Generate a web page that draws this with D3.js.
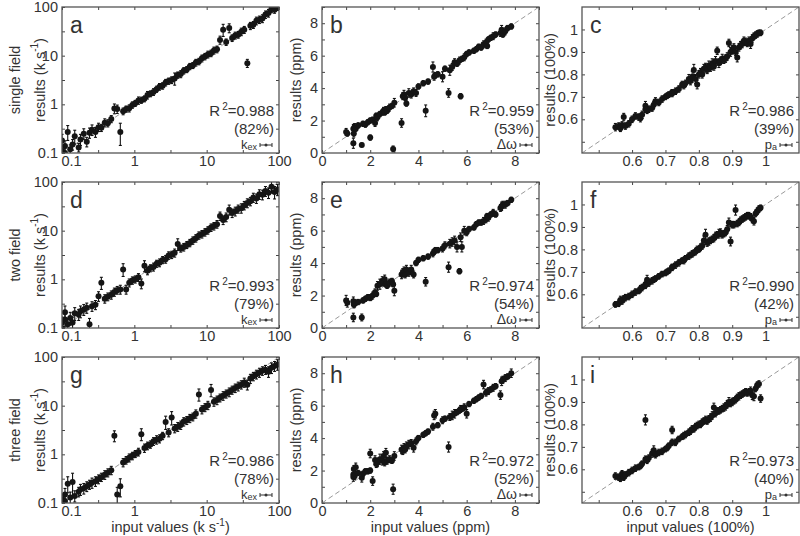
<!DOCTYPE html>
<html><head><meta charset="utf-8">
<script src="https://cdn.jsdelivr.net/npm/d3@7"></script>
<style>
body{margin:0;background:#fff}
svg{display:block}
text{font-family:"Liberation Sans",Arial,sans-serif;fill:#333}
</style>
</head><body>
<svg id="chart" width="800" height="536"></svg>
<script>
// ---------------- DATA ----------------
// input values, column 1 (k_ex, k s^-1)
const inputKex = [0.10,0.10,0.11,0.11,0.12,0.13,0.14,0.15,0.17,0.18, 0.20,0.22,0.24,0.26,0.29,0.32,0.35,0.39,0.43,0.48, 0.53,0.58,0.64,0.70,0.77,0.85,0.94,1.03,1.14,1.25, 1.38,1.52,1.67,1.84,2.03,2.23,2.46,2.71,2.98,3.28, 3.61,3.98,4.38,4.82,5.31,5.85,6.44,7.09,7.81,8.60, 9.47,10.4,11.5,12.6,13.9,15.3,16.9,18.6,20.5,22.5, 24.8,27.3,30.1,33.1,36.5,40.2,44.2,48.7,53.6,59.0, 65.0,71.6,78.8,86.8,95.5];
// input values, column 2 (Δω, ppm)
const inputDw = [1.0,1.05,1.3,1.3,1.32,1.35,1.4,1.5,1.65,1.7, 1.8,1.9,2.0,2.0,2.1,2.2,2.25,2.3,2.4,2.5, 2.55,2.6,2.65,2.7,2.8,2.9,2.95,3.0,3.3,3.35, 3.4,3.45,3.5,3.6,3.7,3.8,3.9,4.0,4.2,4.3, 4.4,4.6,4.65,4.7,4.8,5.0,5.1,5.25,5.3,5.4, 5.5,5.6,5.7,5.75,5.8,5.9,6.0,6.1,6.3,6.4, 6.5,6.6,6.7,6.8,6.85,6.9,7.0,7.1,7.2,7.4, 7.45,7.5,7.6,7.7,7.85];
// input values, column 3 (p_a)
const inputPa = [0.55,0.56,0.565,0.57,0.575,0.58,0.59,0.6,0.61,0.62, 0.625,0.63,0.64,0.645,0.65,0.66,0.665,0.67,0.68,0.69, 0.7,0.705,0.71,0.72,0.73,0.74,0.75,0.755,0.76,0.77, 0.775,0.78,0.785,0.79,0.795,0.8,0.805,0.81,0.815,0.82, 0.825,0.83,0.835,0.84,0.845,0.85,0.855,0.86,0.865,0.87, 0.875,0.88,0.885,0.89,0.895,0.9,0.905,0.91,0.915,0.92, 0.925,0.93,0.935,0.94,0.945,0.95,0.955,0.96,0.965,0.97, 0.975,0.98,0.985,0.64,0.72];

// results + errors, panel a (single field, kex)
const resA = [0.11,0.18,0.10,0.14,0.27,0.12,0.15,0.22,0.13,0.19, 0.25,0.17,0.26,0.30,0.27,0.34,0.33,0.42,0.41,0.50, 0.82,0.80,0.27,0.72,0.80,0.83,0.97,1.05,1.20,1.22, 1.30,1.55,1.65,1.80,2.05,2.30,2.40,2.80,3.00,3.15, 3.40,4.00,4.20,4.90,5.20,6.00,6.30,7.20,7.60,8.80, 9.60,10.6,11.2,12.8,13.5,21,34,19,37,23, 26,27,31,34,7.0,41,43,52,55,58, 70,75,92,88,97];
const errA = [0.02,0.05,0.02,0.03,0.08,0.02,0.03,0.06,0.02,0.04, 0.05,0.03,0.05,0.06,0.05,0.05,0.04,0.06,0.05,0.06, 0.15,0.12,0.12,0.08,0.08,0.1,0.1,0.1,0.15,0.12, 0.12,0.2,0.15,0.2,0.2,0.25,0.25,0.3,0.3,0.35, 0.8,0.4,0.5,0.5,0.5,0.6,0.6,0.8,0.8,1.0, 1.0,1.2,1.2,1.5,1.5,3,8,2,6,2.5, 3,3,4,4,1.0,5,5,7,7,8, 9,10,12,10,8];
// panel d (two field, kex)
const resD = [0.13,0.10,0.21,0.15,0.12,0.16,0.13,0.20,0.19,0.22, 0.24,0.26,0.12,0.28,0.30,0.45,0.85,0.40,0.44,0.48, 0.55,0.60,0.62,1.60,0.62,0.85,0.95,1.00,1.10,0.82, 1.90,1.50,1.70,1.80,2.10,2.20,2.50,2.60,3.10,3.20, 3.50,5.30,4.30,4.60,5.10,5.60,6.30,7.00,8.00,8.50, 9.30,10.2,11.6,12.4,13.6,20,16.5,19,27,23, 25,28,29,33,37,40,48,46,56,55, 65,60,80,62,70];
const errD = [0.03,0.02,0.06,0.04,0.03,0.04,0.03,0.05,0.04,0.05, 0.05,0.05,0.03,0.05,0.05,0.08,0.2,0.06,0.06,0.07, 0.08,0.08,0.1,0.4,0.1,0.12,0.12,0.12,0.15,0.15, 0.4,0.2,0.2,0.25,0.25,0.3,0.3,0.35,0.4,0.4, 0.5,1.2,0.5,0.6,0.6,0.7,0.8,0.9,1.0,1.1, 1.2,1.3,1.5,1.6,1.8,3,2.5,3,5,3.5, 4,4,5,5,6,6,8,8,10,10, 12,12,18,15,15];
// panel g (three field, kex)
const resG = [0.12,0.10,0.15,0.11,0.25,0.13,0.27,0.14,0.17,0.19, 0.20,0.22,0.24,0.26,0.28,0.31,0.34,0.38,0.42,0.47, 2.40,0.15,0.22,0.68,0.76,0.85,0.93,1.02,1.12,2.60, 1.35,1.50,1.60,1.85,2.00,2.10,2.40,4.60,2.80,5.70, 3.40,3.70,4.00,4.70,5.00,5.50,5.90,6.80,17.0,8.30, 9.20,10.2,21.0,12.0,13.0,14.5,16.0,17.5,19.0,21.0, 23.0,25.0,27.0,30.0,27.0,36.0,40.0,44.0,48.0,52.0, 55.0,50.0,60.0,65.0,70.0];
const errG = [0.02,0.02,0.04,0.02,0.08,0.03,0.12,0.03,0.03,0.04, 0.04,0.04,0.04,0.05,0.05,0.05,0.05,0.06,0.06,0.07, 0.5,0.05,0.08,0.1,0.1,0.12,0.12,0.12,0.15,0.6, 0.2,0.2,0.2,0.25,0.3,0.3,0.3,1.2,0.4,1.5, 0.5,0.6,0.6,0.7,0.7,0.8,0.8,1.0,4,1.2, 1.3,1.5,5,1.8,2,2,2.5,2.5,3,3, 3.5,4,4,5,5,6,6,7,8,8, 9,10,12,12,14];

// panel b (single field, Δω)
const resB = [1.3,1.2,0.6,1.5,1.2,1.6,1.5,1.7,0.5,1.8, 1.75,1.9,0.95,2.0,2.05,1.85,2.3,2.2,2.4,2.5, 2.6,2.5,2.7,2.6,2.8,2.9,0.25,3.1,1.85,3.5, 3.6,3.4,3.05,3.7,3.6,3.8,3.7,4.1,4.3,2.6, 4.4,5.3,4.7,4.8,4.85,4.7,5.2,3.7,5.1,5.3, 5.6,5.5,5.7,3.5,5.8,5.9,6.1,6.2,6.3,6.4, 6.55,6.5,6.7,6.8,6.6,7.0,7.1,7.2,7.3,7.4, 7.6,7.3,7.5,7.7,7.8];
const errB = [0.15,0.1,0.25,0.2,0.15,0.15,0.1,0.1,0.05,0.1, 0.1,0.1,0.1,0.1,0.1,0.15,0.1,0.15,0.1,0.1, 0.15,0.1,0.1,0.1,0.15,0.1,0.12,0.2,0.2,0.15, 0.2,0.1,0.1,0.2,0.15,0.15,0.15,0.1,0.1,0.3, 0.1,0.25,0.15,0.1,0.1,0.25,0.1,0.2,0.25,0.15, 0.15,0.1,0.15,0.1,0.1,0.15,0.1,0.1,0.1,0.1, 0.1,0.1,0.15,0.15,0.1,0.1,0.1,0.15,0.1,0.15, 0.2,0.1,0.15,0.1,0.1];
// panel e (two field, Δω)
const resE = [1.7,1.55,0.65,1.65,1.45,1.5,1.55,1.6,0.65,1.7, 1.8,1.9,1.9,1.85,2.0,2.2,2.1,2.6,2.7,2.9, 2.8,3.0,2.7,2.6,2.8,2.9,2.7,2.3,3.3,3.4, 3.5,3.3,3.6,3.4,3.6,3.3,4.0,4.2,4.3,2.85, 4.4,4.6,4.7,4.8,4.8,4.9,5.1,3.75,5.2,5.3, 5.4,5.0,3.5,5.6,5.0,6.0,5.9,6.1,6.2,6.4, 6.5,6.5,6.6,6.7,6.9,6.8,7.0,7.1,7.0,7.4, 7.5,7.6,7.6,7.7,7.9];
const errE = [0.25,0.2,0.2,0.2,0.15,0.15,0.1,0.1,0.15,0.1, 0.1,0.1,0.1,0.1,0.15,0.15,0.1,0.2,0.25,0.2, 0.15,0.2,0.1,0.1,0.15,0.1,0.1,0.25,0.2,0.2, 0.2,0.15,0.2,0.15,0.2,0.15,0.1,0.1,0.1,0.2, 0.1,0.15,0.1,0.1,0.1,0.15,0.15,0.25,0.2,0.2, 0.2,0.25,0.1,0.2,0.25,0.2,0.15,0.1,0.1,0.1, 0.1,0.1,0.15,0.15,0.1,0.15,0.1,0.15,0.1,0.15, 0.2,0.15,0.15,0.1,0.1];
// panel h (three field, Δω)
const resH = [null,null,1.6,1.75,2.1,1.65,2.2,1.85,1.55,1.8, 1.95,1.95,3.05,2.0,1.35,2.65,2.4,2.5,2.7,2.6, 2.9,2.5,3.1,2.6,2.7,2.6,0.85,2.9,3.3,3.2, 3.4,3.3,3.5,3.6,3.7,3.4,3.8,4.0,4.2,4.3, 4.4,4.7,5.4,5.5,4.8,5.1,5.2,3.45,5.3,5.4, 5.5,5.6,5.7,5.8,5.8,5.9,5.5,6.1,6.3,6.4, 6.5,6.6,7.3,6.8,6.85,6.9,7.0,7.1,7.2,6.65, 7.5,7.6,7.7,7.8,8.0];
const errH = [0,0,0.2,0.2,0.15,0.15,0.2,0.1,0.2,0.1, 0.1,0.1,0.2,0.1,0.2,0.2,0.15,0.2,0.25,0.2, 0.2,0.15,0.2,0.15,0.15,0.1,0.25,0.2,0.2,0.15, 0.2,0.15,0.2,0.2,0.15,0.2,0.15,0.1,0.1,0.1, 0.1,0.15,0.2,0.2,0.1,0.15,0.1,0.25,0.15,0.2, 0.2,0.1,0.1,0.15,0.1,0.15,0.2,0.1,0.1,0.1, 0.1,0.1,0.2,0.15,0.1,0.15,0.1,0.15,0.1,0.2, 0.2,0.15,0.15,0.1,0.2];

// panel c (single field, pa)
const resC = [0.565,0.57,0.56,0.575,0.61,0.57,0.58,0.6,0.615,0.61, 0.605,0.62,0.66,0.64,0.645,0.65,0.665,0.68,0.675,0.69, 0.70,0.705,0.71,0.72,0.725,0.735,0.755,0.75,0.76,0.78, 0.77,0.79,0.82,0.78,0.755,0.80,0.81,0.80,0.825,0.83, 0.82,0.84,0.83,0.85,0.835,0.86,0.905,0.85,0.86,0.87, 0.865,0.87,0.88,0.94,0.90,0.91,0.92,0.90,0.875,0.92, 0.93,0.935,0.95,0.945,0.94,0.95,0.935,0.96,0.97,0.975, 0.98,0.985,0.985,0.645,0.715];
const errC = [0.012,0.01,0.01,0.01,0.012,0.01,0.01,0.01,0.01,0.01, 0.012,0.012,0.015,0.01,0.01,0.01,0.01,0.012,0.01,0.01, 0.008,0.008,0.008,0.008,0.01,0.01,0.01,0.01,0.01,0.015, 0.012,0.02,0.02,0.015,0.015,0.012,0.012,0.012,0.015,0.015, 0.012,0.015,0.012,0.015,0.012,0.015,0.012,0.015,0.012,0.015, 0.012,0.012,0.012,0.012,0.015,0.015,0.012,0.012,0.015,0.012, 0.012,0.012,0.012,0.012,0.012,0.012,0.015,0.012,0.01,0.01, 0.01,0.008,0.008,0.01,0.01];
// panel f (two field, pa)
const resF = [0.555,0.56,0.575,0.57,0.58,0.585,0.59,0.6,0.61,0.615, 0.625,0.63,0.645,0.665,0.65,0.66,0.665,0.67,0.68,0.69, 0.695,0.70,0.705,0.72,0.73,0.74,0.75,0.75,0.76,0.77, 0.775,0.78,0.785,0.79,0.80,0.80,0.81,0.815,0.84,0.865, 0.83,0.835,0.84,0.845,0.85,0.86,0.865,0.87,0.875,0.865, 0.87,0.875,0.89,0.92,0.835,0.91,0.91,0.975,0.915,0.92, 0.93,0.935,0.94,0.945,0.95,0.95,0.945,0.935,0.925,0.96, 0.97,0.98,0.985,0.64,0.72];
const errF = [0.008,0.01,0.012,0.01,0.01,0.01,0.01,0.01,0.01,0.008, 0.01,0.01,0.01,0.015,0.01,0.01,0.008,0.008,0.008,0.008, 0.008,0.008,0.008,0.008,0.01,0.01,0.008,0.01,0.008,0.01, 0.008,0.01,0.008,0.01,0.01,0.008,0.01,0.01,0.015,0.02, 0.012,0.012,0.01,0.01,0.012,0.012,0.01,0.015,0.012,0.01, 0.01,0.01,0.012,0.015,0.015,0.01,0.01,0.018,0.01,0.01, 0.01,0.01,0.01,0.01,0.01,0.01,0.01,0.012,0.012,0.01, 0.01,0.01,0.008,0.01,0.01];
// panel i (three field, pa)
const resI = [0.57,0.565,0.56,0.58,0.565,0.575,0.585,0.595,0.605,0.61, 0.615,0.625,0.82,0.64,0.65,0.67,0.685,0.665,0.675,0.68, 0.69,0.695,0.705,0.775,0.72,0.735,0.745,0.75,0.755,0.765, 0.77,0.78,0.78,0.79,0.795,0.80,0.80,0.81,0.815,0.82, 0.815,0.825,0.83,0.84,0.875,0.85,0.86,0.86,0.865,0.87, 0.875,0.88,0.89,0.9,0.895,0.9,0.905,0.91,0.92,0.925, 0.93,0.935,0.94,0.945,0.94,0.945,0.95,0.93,0.925,0.96, 0.975,0.98,0.915,0.645,0.72];
const errI = [0.01,0.01,0.01,0.01,0.01,0.01,0.01,0.01,0.01,0.008, 0.008,0.008,0.018,0.01,0.01,0.012,0.015,0.01,0.01,0.01, 0.008,0.008,0.008,0.012,0.01,0.008,0.008,0.01,0.01,0.01, 0.01,0.01,0.01,0.01,0.01,0.01,0.01,0.01,0.01,0.012, 0.01,0.01,0.012,0.012,0.015,0.012,0.01,0.01,0.01,0.01, 0.012,0.012,0.012,0.015,0.012,0.012,0.01,0.01,0.01,0.012, 0.01,0.01,0.01,0.01,0.01,0.01,0.012,0.015,0.015,0.01, 0.01,0.01,0.012,0.01,0.01];

// tick values / labels
const ticksKex = [0.1,0.316,1,3.16,10,31.6,100];
const labelsKex = [0.1,1,10,100];
const ticksDw = [0,1,2,3,4,5,6,7,8,9];
const labelsDw = [0,2,4,6,8];
const ticksPa = [0.5,0.6,0.7,0.8,0.9,1];
const labelsPa = [0.6,0.7,0.8,0.9,1];

const rowNames = ["single field","two field","three field"];
const letters = ["a","b","c","d","e","f","g","h","i"];
const r2Values = ["0.988","0.959","0.986","0.993","0.974","0.990","0.986","0.972","0.973"];
const percents = ["82%","53%","39%","79%","54%","42%","78%","52%","40%"];

// ---------------- LAYOUT ----------------
const colLeft = [62,322,582], rowTop = [7,182,357], PW = 217, PH = 146;
const svg = d3.select("#chart");

const columns = [
  {inputs:inputKex, log:true, domain:[0.1,100], ticks:ticksKex, labels:labelsKex,
   ytitle:["results (k s","-1",")"], xtitle:["input values (k s","-1",")"], titleOff:22, sym:"kex"},
  {inputs:inputDw, log:false, domain:[0,9], ticks:ticksDw, labels:labelsDw,
   ytitle:["results (ppm)"], xtitle:["input values (ppm)"], titleOff:26, sym:"dw"},
  {inputs:inputPa, log:false, domain:[0.45,1.1], ticks:ticksPa, labels:labelsPa,
   ytitle:["results (100%)"], xtitle:["input values (100%)"], titleOff:32, sym:"pa"}
];
const results = [[resA,resB,resC],[resD,resE,resF],[resG,resH,resI]];
const errors  = [[errA,errB,errC],[errD,errE,errF],[errG,errH,errI]];

function addTitle(sel, parts){
  sel.append("tspan").text(parts[0]);
  if(parts.length>1){
    sel.append("tspan").attr("dy",-6).attr("font-size",10).text(parts[1]);
    sel.append("tspan").attr("dy",6).text(parts[2]);
  }
}

rowNames.forEach((rn,r)=>{
  svg.append("text")
    .attr("transform",`translate(15,${rowTop[r]+PH/2}) rotate(-90)`)
    .attr("text-anchor","middle").attr("dominant-baseline","central")
    .attr("font-size",14.5).text(rn);
});

columns.forEach((col,c)=>{
  rowNames.forEach((rn,r)=>{
    const k = r*3+c;
    const g = svg.append("g").attr("transform",`translate(${colLeft[c]},${rowTop[r]})`);
    const xs = (col.log?d3.scaleLog():d3.scaleLinear()).domain(col.domain).range([0,PW]);
    const ys = (col.log?d3.scaleLog():d3.scaleLinear()).domain(col.domain).range([PH,0]);
    const lab = new Set(col.labels);
    const fmt = d => lab.has(d) ? String(d) : "";

    // axes (inward ticks on all four sides)
    const xb = g.append("g").attr("transform",`translate(0,${PH})`).call(d3.axisBottom(xs).tickValues(col.ticks).tickSize(-3).tickPadding(3).tickFormat(fmt));
    const ax = [
      xb,
      g.append("g").call(d3.axisTop(xs).tickValues(col.ticks).tickSize(-3).tickFormat(()=>"")),
      g.append("g").call(d3.axisLeft(ys).tickValues(col.ticks).tickSize(-3).tickPadding(4).tickFormat(fmt)),
      g.append("g").attr("transform",`translate(${PW},0)`).call(d3.axisRight(ys).tickValues(col.ticks).tickSize(-3).tickFormat(()=>""))
    ];
    ax.forEach(a=>{
      a.attr("font-size",14.5).attr("font-family",'"Liberation Sans",Arial,sans-serif').attr("color","#444");
      a.select(".domain").remove();
      a.selectAll(".tick line").attr("stroke-width",1);
    });
    if(col.log){
      // first x label sits just right of the corner, as in the reference
      xb.selectAll(".tick text").filter(d=>d===col.domain[0]).attr("text-anchor","start").attr("x",-1);
    }

    // clip
    const cid = "clip"+k;
    g.append("clipPath").attr("id",cid).append("rect").attr("width",PW).attr("height",PH);
    const dg = g.append("g").attr("clip-path",`url(#${cid})`);

    // diagonal
    dg.append("line")
      .attr("x1",xs(col.domain[0])).attr("y1",ys(col.domain[0]))
      .attr("x2",xs(col.domain[1])).attr("y2",ys(col.domain[1]))
      .attr("stroke","#999").attr("stroke-width",1).attr("stroke-dasharray","5,3");

    const yv = results[r][c], ev = errors[r][c];
    const n = Math.min(col.inputs.length, yv.length, ev.length);
    const pts = d3.range(n).filter(i=>yv[i]!=null).map(i=>({x:col.inputs[i],y:yv[i],e:ev[i]}));
    const lo = d => col.log ? Math.max(d.y-d.e, col.domain[0]*0.5) : d.y-d.e;

    const eb = dg.append("g").attr("stroke","#111").attr("stroke-width",1.1);
    eb.selectAll("line.v").data(pts).join("line").attr("class","v")
      .attr("x1",d=>xs(d.x)).attr("x2",d=>xs(d.x))
      .attr("y1",d=>ys(lo(d))+1).attr("y2",d=>ys(d.y+d.e)-1);
    eb.selectAll("line.t").data(pts).join("line").attr("class","t")
      .attr("x1",d=>xs(d.x)-1.5).attr("x2",d=>xs(d.x)+1.5)
      .attr("y1",d=>ys(d.y+d.e)-1).attr("y2",d=>ys(d.y+d.e)-1);
    eb.selectAll("line.b").data(pts).join("line").attr("class","b")
      .attr("x1",d=>xs(d.x)-1.5).attr("x2",d=>xs(d.x)+1.5)
      .attr("y1",d=>ys(lo(d))+1).attr("y2",d=>ys(lo(d))+1);
    dg.append("g").selectAll("circle").data(pts).join("circle")
      .attr("cx",d=>xs(d.x)).attr("cy",d=>ys(d.y)).attr("r",3).attr("fill","#151515");

    // frame
    g.append("rect").attr("width",PW).attr("height",PH)
      .attr("fill","none").attr("stroke","#555").attr("stroke-width",1.3);

    // panel letter
    g.append("text").attr("x",8).attr("y",26).attr("font-size",23).attr("fill","#222").text(letters[k]);

    // legend
    const t1 = g.append("text").attr("x",PW-5).attr("y",PH-37).attr("text-anchor","end").attr("font-size",15);
    t1.append("tspan").text("R");
    t1.append("tspan").attr("dx",2).attr("dy",-6).attr("font-size",10).text("2");
    t1.append("tspan").attr("dy",6).text("="+r2Values[k]);
    g.append("text").attr("x",PW-5).attr("y",PH-19).attr("text-anchor","end").attr("font-size",15).text("("+percents[k]+")");

    const gy = PH-8, gx1 = PW-19, gx2 = PW-7;
    const gl = g.append("g").attr("stroke","#333").attr("stroke-width",1);
    gl.append("line").attr("x1",gx1).attr("x2",gx2).attr("y1",gy).attr("y2",gy);
    gl.append("line").attr("x1",gx1).attr("x2",gx1).attr("y1",gy-2).attr("y2",gy+2);
    gl.append("line").attr("x1",gx2).attr("x2",gx2).attr("y1",gy-2).attr("y2",gy+2);
    g.append("circle").attr("cx",(gx1+gx2)/2).attr("cy",gy).attr("r",1.5).attr("fill","#333");
    const t3 = g.append("text").attr("x",gx1-3).attr("y",PH-4).attr("text-anchor","end").attr("font-size",13);
    if(col.sym==="kex"){
      t3.append("tspan").text("k");
      t3.append("tspan").attr("font-size",9).attr("dy",1).text("ex");
    } else if(col.sym==="pa"){
      t3.append("tspan").text("p");
      t3.append("tspan").attr("font-size",9).attr("dy",1).text("a");
    } else {
      t3.attr("font-family",'"Liberation Serif","Times New Roman",serif').attr("font-size",14).text("Δω");
    }

    // y title
    const yt = svg.append("text")
      .attr("transform",`translate(${colLeft[c]-col.titleOff},${rowTop[r]+PH/2}) rotate(-90)`)
      .attr("text-anchor","middle").attr("dominant-baseline","central").attr("font-size",14.5);
    addTitle(yt, col.ytitle);

    if(r===2){
      const xt = svg.append("text").attr("x",colLeft[c]+PW/2).attr("y",532)
        .attr("text-anchor","middle").attr("font-size",14.5);
      addTitle(xt, col.xtitle);
    }
  });
});
</script>
</body></html>
